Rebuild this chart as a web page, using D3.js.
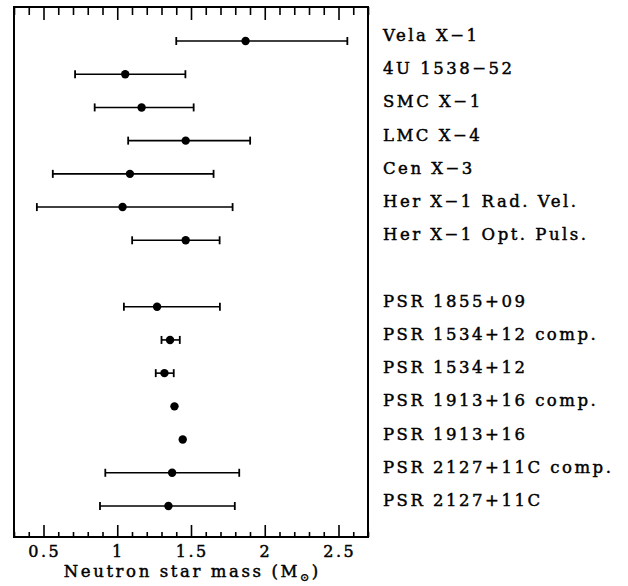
<!DOCTYPE html>
<html><head><meta charset="utf-8">
<script src="https://cdn.jsdelivr.net/npm/d3@7"></script>
<style>body{margin:0;background:#fff}</style>
</head><body>
<svg id="c" width="628" height="586"></svg>
<script>
const names = ["Vela X\u22121","4U 1538\u221252","SMC X\u22121","LMC X\u22124","Cen X\u22123","Her X\u22121 Rad. Vel.","Her X\u22121 Opt. Puls.",null,
  "PSR 1855+09","PSR 1534+12 comp.","PSR 1534+12","PSR 1913+16 comp.","PSR 1913+16","PSR 2127+11C comp.","PSR 2127+11C"];
const mass = [1.87,1.054,1.165,1.464,1.086,1.036,1.464,null,1.270,1.358,1.320,1.388,1.444,1.372,1.347];
const lo   = [1.40,0.714,0.847,1.074,0.563,0.455,1.101,null,1.045,1.300,1.261,null,null,0.919,0.883];
const hi   = [2.56,1.462,1.518,1.901,1.653,1.782,1.694,null,1.696,1.424,1.383,null,null,1.827,1.797];
const majorTicks = [0.5,1,1.5,2,2.5];
const majorLabels = ["0.5","1","1.5","2","2.5"];
const minorTicks = [0.3,0.4,0.6,0.7,0.8,0.9,1.1,1.2,1.3,1.4,1.6,1.7,1.8,1.9,2.1,2.2,2.3,2.4,2.6,2.7];

const svg = d3.select("#c");
const L=14,R=368,T=7,B=537;
const x = d3.scaleLinear().domain([0.3,2.7]).range([L,R]);
const y = d3.scaleLinear().domain([0,14]).range([41,506]);
const font = "'DejaVu Serif', serif";

function styleAxis(g){ g.select(".domain").remove(); g.selectAll("line").attr("stroke","#000").attr("stroke-width",1.6); }
svg.append("g").attr("transform",`translate(0,${B})`).call(d3.axisTop(x).tickValues(majorTicks).tickSize(12).tickFormat("")).call(styleAxis);
svg.append("g").attr("transform",`translate(0,${B})`).call(d3.axisTop(x).tickValues(minorTicks).tickSize(5).tickFormat("")).call(styleAxis);
svg.append("g").attr("transform",`translate(0,${T})`).call(d3.axisBottom(x).tickValues(majorTicks).tickSize(13).tickFormat("")).call(styleAxis);
svg.append("g").attr("transform",`translate(0,${T})`).call(d3.axisBottom(x).tickValues(minorTicks).tickSize(8).tickFormat("")).call(styleAxis);

svg.append("rect").attr("x",L).attr("y",T).attr("width",R-L).attr("height",B-T)
  .attr("fill","none").attr("stroke","#000").attr("stroke-width",2);

function heavy(sel){ return sel.attr("fill","#000").attr("stroke","#000").attr("stroke-width",0.45); }

svg.selectAll(".tl").data(majorTicks).enter().append("text")
  .attr("x",d=>x(d)).attr("dx",1.2).attr("y",557).attr("text-anchor","middle")
  .attr("font-family",font).attr("font-size",16).attr("letter-spacing",2.5)
  .call(heavy).text((d,i)=>majorLabels[i]);

const title = svg.append("text").attr("x",x(1.5)).attr("dx",1.3).attr("y",577).attr("text-anchor","middle")
  .attr("font-family",font).attr("font-size",16.5).attr("letter-spacing",2.6).call(heavy);
title.append("tspan").text("Neutron star mass (M");
title.append("tspan").attr("font-size",11).attr("dy",4).text("\u2299");
title.append("tspan").attr("dy",-4).text(")");

const rows = d3.range(names.length).filter(i=>names[i]!==null);
const g = svg.append("g");
rows.filter(i=>lo[i]!==null).forEach(i=>{
  g.append("line").attr("x1",x(lo[i])).attr("x2",x(hi[i])).attr("y1",y(i)).attr("y2",y(i)).attr("stroke","#000").attr("stroke-width",1.6);
  [lo[i],hi[i]].forEach(v=>g.append("line").attr("x1",x(v)).attr("x2",x(v)).attr("y1",y(i)-4).attr("y2",y(i)+4).attr("stroke","#000").attr("stroke-width",1.8));
});
g.selectAll("circle").data(rows).enter().append("circle")
  .attr("cx",i=>x(mass[i])).attr("cy",i=>y(i)).attr("r",4.2).attr("fill","#000");

svg.selectAll(".lab").data(rows).enter().append("text")
  .attr("x",383).attr("y",i=>y(i)).attr("font-family",font).attr("font-size",16.5)
  .attr("letter-spacing",2.5).call(heavy).text(i=>names[i]);
</script>
</body></html>
